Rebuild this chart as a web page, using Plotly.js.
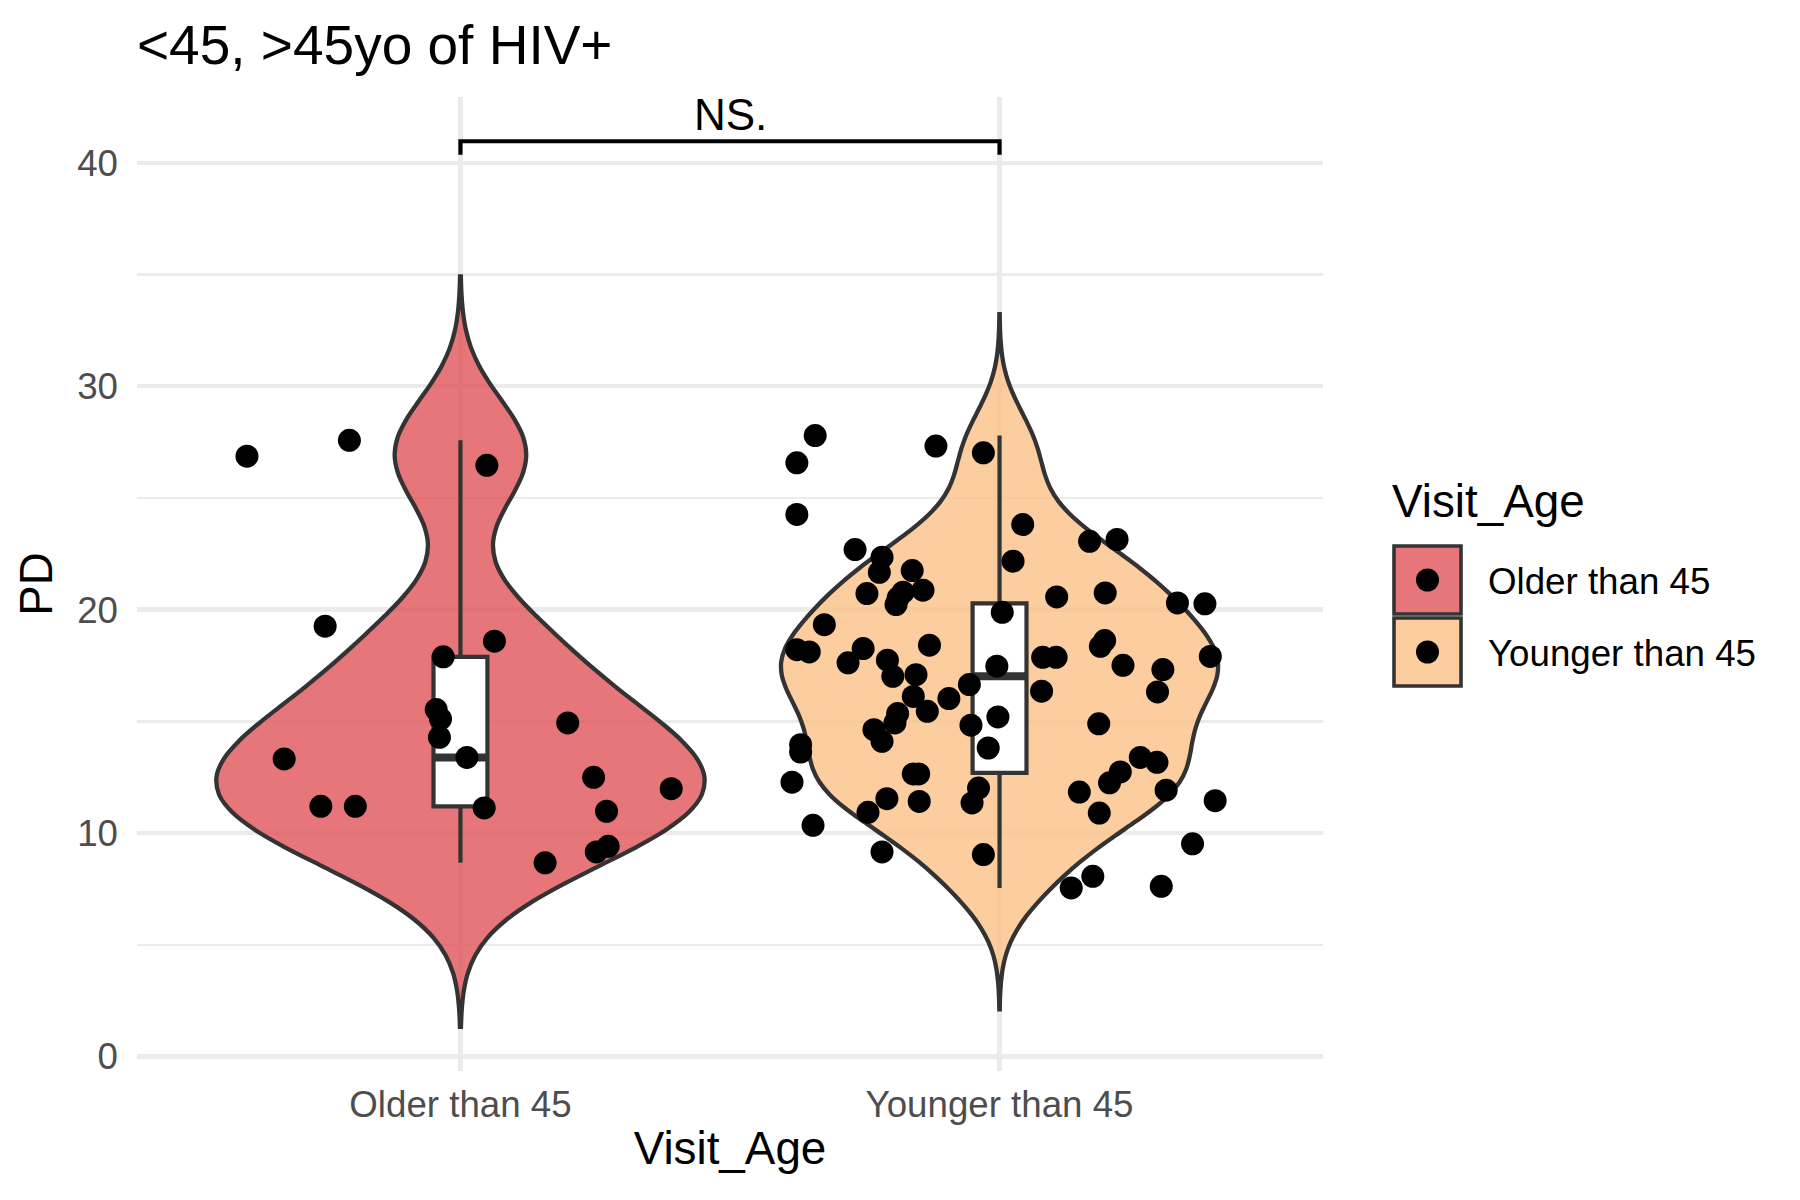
<!DOCTYPE html>
<html>
<head>
<meta charset="utf-8">
<script src="https://cdn.plot.ly/plotly-3.0.1.min.js"></script>
<style>html,body{margin:0;padding:0;background:#fff;}#chart{width:1800px;height:1200px;}</style>
</head>
<body>
<div id="chart"></div>
<script>
// ---------------- data ----------------
const categories = ["Older than 45", "Younger than 45"];
const legendTitle = "Visit_Age";
const xTitle = "Visit_Age";
const yTitle = "PD";
const chartTitle = "&lt;45, &gt;45yo of HIV+";

const olderPD = [26.87, 27.58, 26.46, 19.26, 18.59, 17.89, 15.53, 15.11, 14.29, 13.39, 14.93,
  13.32, 11.20, 11.20, 11.13, 12.50, 11.99, 10.98, 8.67, 9.16, 9.41];
const olderJitter = [-0.396, -0.206, 0.049, -0.251, 0.063, -0.032, -0.045, -0.037, -0.039, 0.012, 0.199,
  -0.327, -0.259, -0.195, 0.044, 0.247, 0.391, 0.271, 0.157, 0.252, 0.274];

const youngerPD = [27.79, 26.57, 27.32, 27.02, 24.26, 23.81, 23.06, 23.14, 22.69, 22.17,
  22.35, 21.67, 21.75, 20.87, 20.72, 20.78, 20.53, 20.23, 20.57, 20.75,
  20.30, 20.26, 19.88, 19.33, 18.21, 18.11, 18.26, 17.62, 18.41, 17.74,
  17.02, 17.09, 18.62, 18.36, 17.87, 17.87, 17.91, 17.51, 17.32, 17.47,
  16.65, 16.12, 16.02, 16.35, 16.32, 15.45, 15.35, 14.93, 14.63, 14.11,
  15.20, 14.83, 14.89, 13.81, 13.96, 13.63, 13.39, 13.17, 12.74, 12.25,
  12.65, 12.65, 12.28, 12.02, 11.35, 11.54, 11.42, 10.93, 11.84, 10.90,
  11.92, 11.45, 10.35, 9.52, 9.16, 9.04, 8.07, 7.55, 7.62];
const youngerJitter = [-0.342, -0.376, -0.118, -0.030, -0.376, 0.043, 0.167, 0.218, -0.268, 0.025,
  -0.218, -0.223, -0.162, -0.142, -0.246, -0.179, -0.188, -0.192, 0.106, 0.196,
  0.330, 0.381, 0.005, -0.325, -0.376, -0.353, -0.253, -0.281, -0.130, -0.208,
  -0.198, -0.155, 0.195, 0.187, 0.080, 0.105, 0.391, 0.229, 0.303, -0.005,
  -0.056, -0.160, -0.094, 0.078, 0.293, -0.134, -0.189, -0.194, -0.233, -0.218,
  -0.003, -0.053, 0.184, -0.021, -0.369, -0.369, 0.261, 0.292, 0.224, 0.204,
  -0.160, -0.150, -0.385, -0.039, -0.051, -0.209, -0.149, -0.244, 0.148, 0.185,
  0.309, 0.400, -0.346, 0.358, -0.218, -0.030, 0.173, 0.133, 0.300];

const yTicks = [0, 10, 20, 30, 40];
const yMinorTicks = [5, 15, 25, 35];

// significance bracket
const bracketTop = 40.96;
const bracketTickEnd = 40.36;
const bracketLabel = "NS.";

// ---------------- styles ----------------
const FONT = "Liberation Sans, Arial, Helvetica, sans-serif";
const fills = ["rgba(224,84,88,0.8)", "rgba(251,192,134,0.8)"];
const violinWidths = [0.905, 0.81];
const outline = "#333333";
const gridColor = "#EBEBEB";

// ---------------- helpers (ggplot-like stats) ----------------
function sorted(a) { return a.slice().sort((p, q) => p - q); }
function q7(a, p) {
  const s = sorted(a); const h = (s.length - 1) * p;
  const lo = Math.floor(h), hi = Math.ceil(h);
  return s[lo] + (h - lo) * (s[hi] - s[lo]);
}
function sd(a) {
  const m = a.reduce((s, v) => s + v, 0) / a.length;
  return Math.sqrt(a.reduce((s, v) => s + (v - m) * (v - m), 0) / (a.length - 1));
}
function nrd0(a) {
  const iqr = q7(a, 0.75) - q7(a, 0.25);
  return 0.9 * Math.min(sd(a), iqr / 1.34) * Math.pow(a.length, -0.2);
}

const groups = [
  {name: categories[0], y: olderPD, jit: olderJitter},
  {name: categories[1], y: youngerPD, jit: youngerJitter}
];

const traces = [];
let spanLo = Infinity;
groups.forEach((g, i) => {
  const bw = nrd0(g.y);
  const lo = Math.min(...g.y) - 3 * bw, hi = Math.max(...g.y) + 3 * bw;
  spanLo = Math.min(spanLo, lo);
  traces.push({
    type: "violin", x0: i, y: g.y, name: g.name,
    width: violinWidths[i], bandwidth: bw, spanmode: "manual", span: [lo, hi],
    scalemode: "width", fillcolor: fills[i],
    line: {color: outline, width: 4.3},
    points: false, box: {visible: false}, meanline: {visible: false},
    showlegend: false, hoverinfo: "skip"
  });
});
groups.forEach((g, i) => {
  traces.push({
    type: "box", x0: i, y: g.y, name: g.name, width: 0.1,
    quartilemethod: "inclusive",
    fillcolor: "#FFFFFF", line: {color: outline, width: 4.2},
    whiskerwidth: 0, boxpoints: false, showlegend: false, hoverinfo: "skip"
  });
  const med = q7(g.y, 0.5);
  traces.push({
    type: "scatter", mode: "lines", x: [i - 0.05, i + 0.05], y: [med, med],
    line: {color: outline, width: 8}, showlegend: false, hoverinfo: "skip"
  });
});
groups.forEach((g, i) => {
  traces.push({
    type: "scatter", mode: "markers", name: g.name,
    x: g.y.map((v, k) => i + g.jit[k]), y: g.y,
    marker: {color: "#000000", size: 23, line: {width: 0}},
    showlegend: false, hoverinfo: "skip"
  });
});
traces.push({
  type: "scatter", mode: "lines",
  x: [0, 0, 1, 1], y: [bracketTickEnd, bracketTop, bracketTop, bracketTickEnd],
  line: {color: "#000000", width: 4.2}, showlegend: false, hoverinfo: "skip"
});

// y range as ggplot: data span expanded by 5 %
const yLo = spanLo, yHi = bracketTop;
const yPad = 0.05 * (yHi - yLo);

// layout geometry (pixels)
const W = 1800, H = 1200;
const M = {l: 137, r: 477, t: 97, b: 129};
const PW = W - M.l - M.r, PH = H - M.t - M.b;
const px2x = px => (px - M.l) / PW;
const px2y = py => (H - M.b - py) / PH;

// hand-built legend (ggplot style keys)
const shapes = [], annotations = [];
annotations.push({
  xref: "paper", yref: "paper", x: px2x(1390), y: px2y(501), xanchor: "left", yanchor: "middle",
  text: legendTitle, showarrow: false, font: {family: FONT, size: 45.8, color: "#000000"}
});
const keyTops = [546, 618];
categories.forEach((c, i) => {
  const t = keyTops[i], b = t + 68;
  shapes.push({type: "rect", xref: "paper", yref: "paper", layer: "above",
    x0: px2x(1394), x1: px2x(1461), y0: px2y(b), y1: px2y(t),
    fillcolor: fills[i], line: {color: outline, width: 3.6}});
  const cx = 1427.5, cy = (t + b) / 2, r = 11.5;
  shapes.push({type: "circle", xref: "paper", yref: "paper", layer: "above",
    x0: px2x(cx - r), x1: px2x(cx + r), y0: px2y(cy + r), y1: px2y(cy - r),
    fillcolor: "#000000", line: {width: 0}});
  annotations.push({
    xref: "paper", yref: "paper", x: px2x(1486), y: px2y(cy + 1), xanchor: "left", yanchor: "middle",
    text: c, showarrow: false, font: {family: FONT, size: 36.7, color: "#000000"}
  });
});
annotations.push({
  xref: "x", yref: "y", x: 0.5, y: bracketTop, xanchor: "center", yanchor: "bottom",
  text: bracketLabel, showarrow: false, font: {family: FONT, size: 44, color: "#000000"}
});

const layout = {
  width: W, height: H, margin: M,
  paper_bgcolor: "#FFFFFF", plot_bgcolor: "#FFFFFF",
  font: {family: FONT, color: "#000000"},
  showlegend: false,
  violinmode: "overlay", boxmode: "overlay",
  title: {text: chartTitle, font: {family: FONT, size: 55, color: "#000000"},
    xref: "paper", x: 0, xanchor: "left", yref: "container", y: 1 - 45 / H, yanchor: "middle"},
  xaxis: {
    type: "linear", range: [-0.6, 1.6], tickmode: "array", tickvals: [0, 1], ticktext: categories,
    showgrid: true, gridcolor: gridColor, gridwidth: 4.4, zeroline: false, showline: false, ticks: "",
    tickfont: {family: FONT, size: 36.7, color: "#4D4D4D"}, ticklabelstandoff: 8,
    title: {text: xTitle, font: {family: FONT, size: 45.8, color: "#000000"}, standoff: 8},
    automargin: false, fixedrange: true
  },
  yaxis: {
    range: [yLo - yPad, yHi + yPad], tickmode: "array", tickvals: yTicks, ticktext: yTicks.map(String),
    showgrid: true, gridcolor: gridColor, gridwidth: 4.4, zeroline: false, showline: false, ticks: "",
    minor: {tickmode: "array", tickvals: yMinorTicks, showgrid: true, gridcolor: gridColor, gridwidth: 2.2, ticks: ""},
    tickfont: {family: FONT, size: 36.7, color: "#4D4D4D"}, ticklabelstandoff: 18,
    title: {text: yTitle, font: {family: FONT, size: 45.8, color: "#000000"}, standoff: 10},
    automargin: false, fixedrange: true
  },
  shapes: shapes, annotations: annotations
};

Plotly.newPlot("chart", traces, layout, {staticPlot: true, displayModeBar: false});
</script>
</body>
</html>
